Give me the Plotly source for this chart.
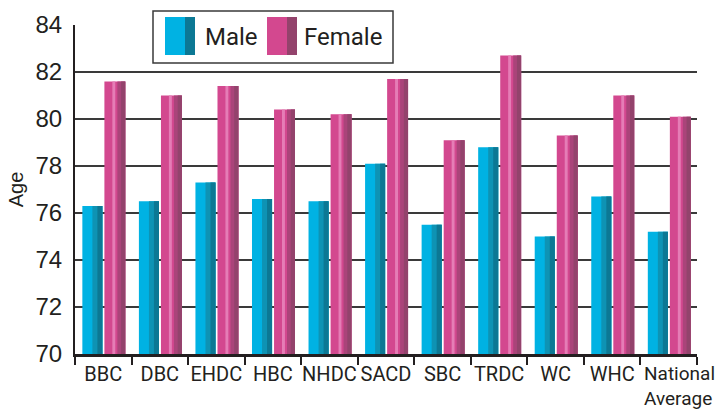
import plotly.graph_objects as go

categories = ["BBC", "DBC", "EHDC", "HBC", "NHDC", "SACD", "SBC", "TRDC", "WC", "WHC", "National Average"]
tick_labels = ["BBC", "DBC", "EHDC", "HBC", "NHDC", "SACD", "SBC", "TRDC", "WC", "WHC", ""]
last_label = "National<br>Average"
male = [76.3, 76.5, 77.3, 76.6, 76.5, 78.1, 75.5, 78.8, 75.0, 76.7, 75.2]
female = [81.6, 81.0, 81.4, 80.4, 80.2, 81.7, 79.1, 82.7, 79.3, 81.0, 80.1]
y_ticks = [70, 72, 74, 76, 78, 80, 82, 84]

FONT = "Roboto, Liberation Sans, Arial, sans-serif"
TICKFONT = "Liberation Sans, Arial, sans-serif"

fig = go.Figure()

def add_shaded(vals, name, start, width, layers):
    for i, (rs, rw, col) in enumerate(layers):
        fig.add_trace(go.Bar(
            x=categories, y=[v - 70 for v in vals], base=70,
            offset=start + rs * width, width=rw * width,
            marker=dict(color=col, line=dict(width=0)),
            name=name, showlegend=False,
        ))

male_layers = [(0, 1, "#00B2E3"), (0.5, 0.5, "#0E93B4"), (0.75, 0.25, "#0C7894")]
female_layers = [(0, 1, "#D3488F"), (0.38, 0.14, "#E57DB6"), (0.62, 0.38, "#AA447A"), (0.8, 0.2, "#93436C")]

add_shaded(male, "Male", -0.37, 0.355, male_layers)
add_shaded(female, "Female", 0.02, 0.37, female_layers)

fig.update_layout(
    width=716, height=415,
    margin=dict(l=75, r=19, t=25, b=61, autoexpand=False),
    paper_bgcolor="white", plot_bgcolor="white",
    barmode="overlay",
    showlegend=False,
    font=dict(family=FONT, color="#231F20"),
    xaxis=dict(
        type="category", automargin=False,
        tickmode="array", tickvals=categories, ticktext=tick_labels,
        tickson="boundaries", ticks="outside", ticklen=8, tickwidth=2, tickcolor="#231F20",
        showline=True, linecolor="#231F20", linewidth=3,
        showgrid=False, tickangle=0,
        tickfont=dict(family=FONT, size=20, color="#231F20"),
        range=[-0.5, 10.5],
    ),
    yaxis=dict(
        range=[70, 84], tickvals=y_ticks, automargin=False,
        showgrid=True, gridcolor="#3A3A3A", gridwidth=1.5,
        showline=True, linecolor="#231F20", linewidth=2,
        ticks="", ticklabelstandoff=6,
        tickfont=dict(family=TICKFONT, size=24, color="#231F20"),
        title=dict(text="Age", font=dict(family=TICKFONT, size=20, color="#231F20"), standoff=6),
        zeroline=False,
    ),
)

# label of the last category, placed like the reference (left-aligned, two lines)
fig.add_annotation(xref="x", yref="paper", x=categories[-1], y=0, xshift=-27, yshift=-6,
                   text=last_label, showarrow=False, xanchor="left", yanchor="top", align="left",
                   font=dict(family=FONT, size=19, color="#231F20"))

# custom legend box (page pixels converted to paper coordinates)
pl, pr, pt, pb = 75, 697, 25, 354
def xp(x): return (x - pl) / (pr - pl)
def yp(y): return (pb - y) / (pb - pt)

fig.add_shape(type="rect", xref="paper", yref="paper",
              x0=xp(153), x1=xp(393), y0=yp(63), y1=yp(11),
              line=dict(color="#3A3A3A", width=1.5), fillcolor="white", layer="above")
for x0, col_main, col_dark, label, tx in [(165, "#00B2E3", "#0C7894", "Male", 203),
                                          (267, "#D3488F", "#93436C", "Female", 302)]:
    fig.add_shape(type="rect", xref="paper", yref="paper",
                  x0=xp(x0), x1=xp(x0 + 30), y0=yp(55), y1=yp(17),
                  line=dict(width=0), fillcolor=col_main, layer="above")
    fig.add_shape(type="rect", xref="paper", yref="paper",
                  x0=xp(x0 + 20), x1=xp(x0 + 30), y0=yp(55), y1=yp(17),
                  line=dict(width=0), fillcolor=col_dark, layer="above")
    fig.add_annotation(xref="paper", yref="paper", x=xp(tx), y=yp(37),
                       text=label, showarrow=False, xanchor="left", yanchor="middle",
                       font=dict(family=FONT, size=24, color="#231F20"))

fig.write_html("out.html", config={"displayModeBar": False},
               post_script="document.body.style.margin='0';document.body.style.overflow='hidden';")
